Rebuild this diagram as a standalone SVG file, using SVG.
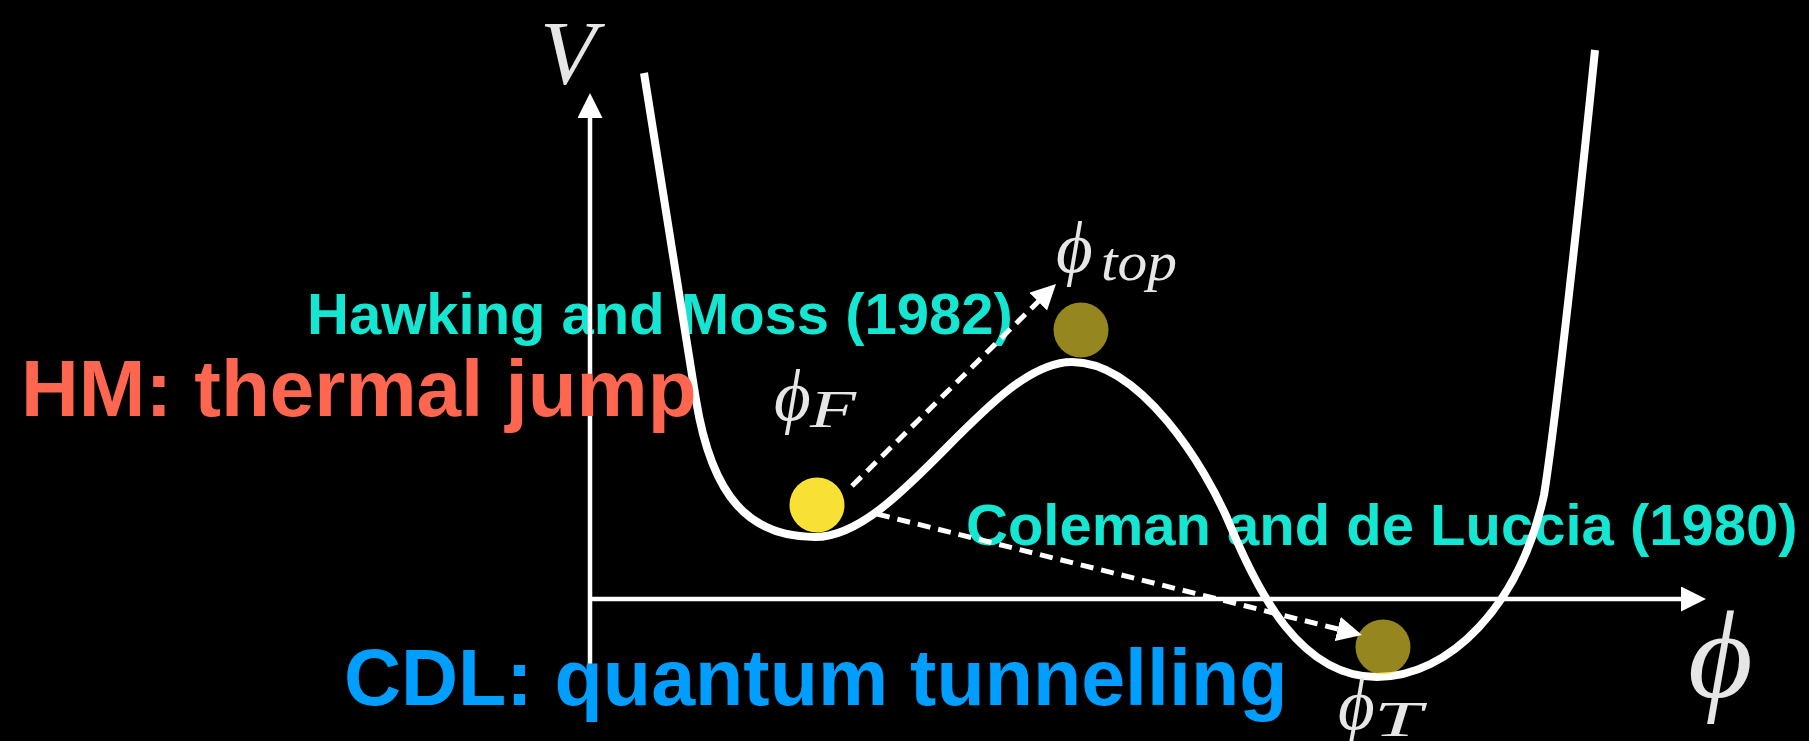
<svg xmlns="http://www.w3.org/2000/svg" width="1809" height="741" viewBox="0 0 1809 741">
<style>
.lab{font-family:"Liberation Sans",Arial,sans-serif;font-weight:bold}
.cy{fill:#14E6D2;font-size:58px}
.big{font-size:80px}
.math{font-family:"Liberation Serif","DejaVu Serif",serif;font-style:italic;fill:#e6e6e6}
.curve{fill:none;stroke:#fff;stroke-width:8}
.axis{fill:none;stroke:#fff;stroke-width:4.5}
.dash{fill:none;stroke:#fff;stroke-width:5;stroke-dasharray:13 8}
.ball{fill:#F9E034}
.ghost{fill:#F9E034;fill-opacity:0.6}
</style>
<defs>
<marker id="ah" markerUnits="userSpaceOnUse" markerWidth="26" markerHeight="26" viewBox="0 0 26 26" refX="17" refY="12.5" orient="auto">
<path d="M0,0 L25,12.5 L0,25 z" fill="#fff"/>
</marker>
</defs>
<rect width="1809" height="741" fill="#000"/>

<g id="label-hawking"><text class="lab cy" x="307" y="334">Hawking and Moss (1982)</text></g>
<g id="label-coleman"><text class="lab cy" x="966" y="545">Coleman and de Luccia (1980)</text></g>

<g id="axes">
<path class="axis" d="M590,705 L590,101" marker-end="url(#ah)"/>
<path class="axis" d="M588,599 L1698,599" marker-end="url(#ah)"/>
</g>

<g id="potential">
<path class="curve" d="M644,73 L696,400 C712,498 750,537 815,537 C900,537 990,362 1072,362 C1140,362 1205,465 1230,525 C1258,592 1300,677 1377,677 C1450,677 1520,605 1544,495 C1556,420 1582,180 1595,50"/>
</g>

<g id="ball-false"><circle class="ball" cx="817" cy="505" r="27.5"/></g>
<g id="ball-top"><circle class="ghost" cx="1081" cy="330" r="27.5"/></g>
<g id="ball-true"><circle class="ghost" cx="1383" cy="647" r="27.5"/></g>

<g id="connectors">
<path class="dash" d="M852,486 L1050.3,289.6" marker-end="url(#ah)"/>
<path class="dash" d="M877,514 L1354.2,633.1" marker-end="url(#ah)"/>
</g>

<g id="label-hm"><text class="lab big" fill="#FF6650" x="21" y="416">HM: thermal jump</text></g>
<g id="label-cdl"><text class="lab" fill="#009FFF" font-size="79" x="344" y="705">CDL: quantum tunnelling</text></g>

<g id="label-V"><text class="math" x="540" y="84" font-size="92">V</text></g>
<g id="label-phi-top"><text class="math" x="1056" y="272" font-size="71">ϕ</text><text class="math" x="1101" y="280" font-size="54" textLength="76" lengthAdjust="spacingAndGlyphs">top</text></g>
<g id="label-phi-F"><text class="math" x="774" y="420" font-size="71">ϕ</text><text class="math" x="810" y="427" font-size="52" textLength="46" lengthAdjust="spacingAndGlyphs">F</text></g>
<g id="label-phi-T"><text class="math" x="1338" y="729" font-size="71">ϕ</text><text class="math" x="1374" y="736" font-size="50" textLength="48" lengthAdjust="spacingAndGlyphs">T</text></g>
<g id="label-phi"><text class="math" x="1688" y="697" font-size="125">ϕ</text></g>
</svg>
